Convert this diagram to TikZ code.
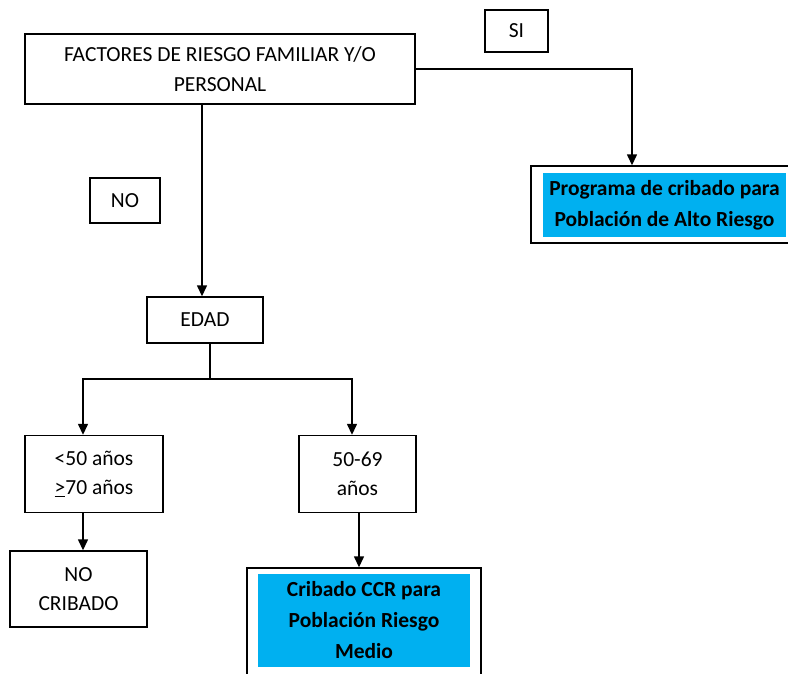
\documentclass[tikz,border=0pt]{standalone}
\usepackage{fontspec}
\setmainfont{Carlito}
\usetikzlibrary{arrows.meta,calc}
\definecolor{cyanfill}{HTML}{00B0F0}
\begin{document}
\begin{tikzpicture}[x=1pt,y=-1pt,
  box/.style={draw,line width=1.4pt,inner sep=0pt,align=center,font=\fontsize{21.5}{29.5}\selectfont},
  fillbox/.style={fill=cyanfill,inner sep=0pt,align=center,font=\fontsize{21.5}{31}\selectfont\bfseries},
  outerbox/.style={draw,line width=1.4pt,inner sep=0pt},
  arr/.style={line width=1.4pt,-{Triangle[width=10pt,length=11pt]}},
  ln/.style={line width=1.4pt}]
\fill[white] (0,0) rectangle (788,673);
\useasboundingbox (0,0) rectangle (788,673);

% nodes
\node[box,minimum width=63pt,minimum height=42pt] (si) at (516.5,31) {SI};
\node[box,minimum width=390pt,minimum height=70pt] (fact) at (220,69) {FACTORES DE RIESGO FAMILIAR Y/O\\PERSONAL};
\node[outerbox,minimum width=260pt,minimum height=77pt] (prog) at (661,204.5) {};
\node[fillbox,minimum width=243pt,minimum height=64pt] (progtext) at (664.5,205) {Programa de cribado para\\Población de Alto Riesgo};
\node[box,minimum width=70pt,minimum height=45pt] (no) at (125,200.5) {NO};
\node[box,minimum width=116pt,minimum height=46pt] (edad) at (205,320) {EDAD};
\node[box,minimum width=138pt,minimum height=77pt] (lt) at (94,474) {<50 años\\\underline{>}70 años};
\node[box,minimum width=117pt,minimum height=77pt] (mid) at (357.5,474) {50-69\\años};
\node[box,minimum width=137pt,minimum height=76pt] (nocrib) at (78.5,589) {NO\\CRIBADO};
\node[outerbox,minimum width=234pt,minimum height=116pt] (crib) at (364,626) {};
\node[fillbox,minimum width=212pt,minimum height=93pt] (cribtext) at (364,620.5) {Cribado CCR para\\Población Riesgo\\Medio};

% helper coordinates
\coordinate (xsi) at (632,0);
\coordinate (xno) at (202,0);
\coordinate (xed) at (210,0);
\coordinate (split) at (210,379);
\coordinate (xl) at (83,0);
\coordinate (xr) at (352,0);
\coordinate (xm) at (359,0);

% connectors
\draw[arr] (fact.east) -| (xsi |- prog.north);
\draw[arr] (xno |- fact.south) -- (xno |- edad.north);
\draw[ln] (xed |- edad.south) -- (split);
\draw[arr] (split) -| (xl |- lt.north);
\draw[arr] (split) -| (xr |- mid.north);
\draw[arr] (xl |- lt.south) -- (xl |- nocrib.north);
\draw[arr] (xm |- mid.south) -- (xm |- crib.north);
\end{tikzpicture}
\end{document}
